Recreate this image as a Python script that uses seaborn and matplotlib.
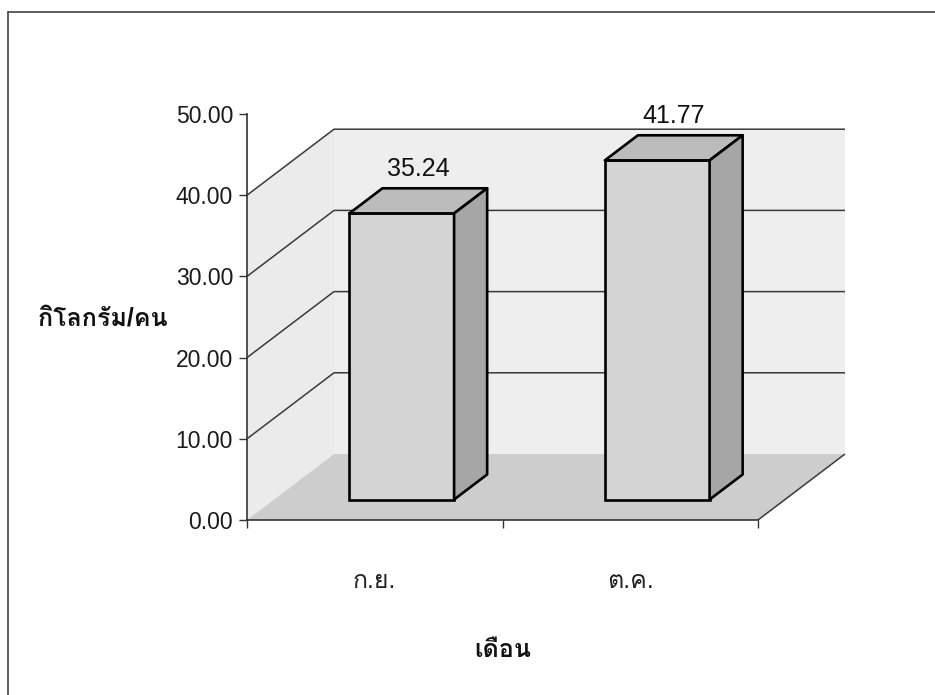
import matplotlib
matplotlib.use("Agg")
import matplotlib.pyplot as plt
from matplotlib.patches import Polygon
from matplotlib.lines import Line2D
from matplotlib.ticker import StrMethodFormatter
import pandas as pd
import seaborn as sns

# Monthly amount per person
months = ["ก.ย.", "ต.ค."]
kg_per_person = [35.24, 41.77]
y_ticks = [0, 10, 20, 30, 40, 50]
wall_top = 40
x_title = "เดือน"
y_title = "กิโลกรัม/คน"

sns.set_style("white")
plt.rcParams["font.family"] = ["Liberation Sans", "Loma", "DejaVu Sans"]

W, H = 935, 695
fig = plt.figure(figsize=(W / 100, H / 100), dpi=100)
# front plane of the 3-D box: value axis on the left, category axis along the floor edge
ax = fig.add_axes([247 / W, 175 / H, 511 / W, 406 / H])

df = pd.DataFrame({"month": months, "value": kg_per_person})
sns.barplot(data=df, x="month", y="value", order=months, color="#d4d4d4",
            saturation=1, width=0.41, edgecolor="black", linewidth=1.9,
            ax=ax, zorder=3)
bars = list(ax.patches)

ax.set_xlim(-0.5, len(months) - 0.5)
ax.set_ylim(y_ticks[0], y_ticks[-1])
left, right = ax.get_xlim()

# oblique depth direction, in screen pixels for a full unit of depth
DEPTH_PX = (87, 66)


def proj(x, v, d):
    """Data point (x, v) pushed back by depth d (0 = front, 1 = back wall)."""
    sx, sy = ax.transData.transform((x, v))
    return ax.transData.inverted().transform((sx + d * DEPTH_PX[0], sy + d * DEPTH_PX[1]))


def face(pts, color, z, **kw):
    ax.add_patch(Polygon([proj(*p) for p in pts], closed=True, facecolor=color,
                         zorder=z, clip_on=False, **kw))


def edge(pts, z=1.0, color="#3a3a3a", lw=1.1):
    xs, ys = zip(*[proj(*p) for p in pts])
    ax.add_line(Line2D(xs, ys, color=color, lw=lw, zorder=z, clip_on=False,
                       solid_capstyle="butt"))


# walls and floor
face([(left, 0, 1), (right, 0, 1), (right, wall_top, 1), (left, wall_top, 1)],
     "#eeeeee", 0.5, edgecolor="none")
face([(left, 0, 0), (left, 0, 1), (left, wall_top, 1), (left, wall_top, 0)],
     "#ebebeb", 0.5, edgecolor="none")
face([(left, 0, 0), (right, 0, 0), (right, 0, 1), (left, 0, 1)],
     "#cdcdcd", 0.6, edgecolor="none")

# gridlines running along the side wall and across the back wall
for v in y_ticks:
    if 0 < v <= wall_top:
        edge([(left, v, 0), (left, v, 1), (right, v, 1)], z=0.8)
edge([(right, 0, 0), (right, 0, 1)], z=0.8)

# bars: front faces from seaborn, set back into the box, plus top and side faces
DB, BD = 0.31, 0.38
for p in bars:
    x0, w, h = p.get_x(), p.get_width(), p.get_height()
    p.set_xy(proj(x0, 0, DB))
    p.set_clip_on(False)
    face([(x0, h, DB), (x0 + w, h, DB), (x0 + w, h, DB + BD), (x0, h, DB + BD)],
         "#bcbcbc", 3, edgecolor="black", linewidth=1.9, joinstyle="round")
    face([(x0 + w, 0, DB), (x0 + w, h, DB), (x0 + w, h, DB + BD), (x0 + w, 0, DB + BD)],
         "#a6a6a6", 3, edgecolor="black", linewidth=1.9, joinstyle="round")
    ax.annotate(f"{h:.2f}", xy=proj(x0 + w / 2, h, DB + BD / 2), xytext=(0, 25),
                textcoords="offset pixels", ha="center", va="baseline",
                fontsize=18, color="#111111", zorder=5, annotation_clip=False)

# axes styling
for s in ("top", "right"):
    ax.spines[s].set_visible(False)
for s in ("left", "bottom"):
    ax.spines[s].set_color("#333333")
    ax.spines[s].set_linewidth(1.2)
    ax.spines[s].set_zorder(4)

ax.set_yticks(y_ticks)
ax.yaxis.set_major_formatter(StrMethodFormatter("{x:.2f}"))
ax.tick_params(axis="y", left=True, direction="out", length=6, width=1,
               color="#333333", pad=4, labelsize=16.5, labelcolor="#1a1a1a")

ax.set_xticks(range(len(months)), months)
ax.set_xticks([left, (left + right) / 2, right], minor=True)
ax.tick_params(axis="x", which="major", bottom=False, length=0, pad=35,
               labelsize=18, labelcolor="#222222")
ax.tick_params(axis="x", which="minor", bottom=True, direction="out", length=6,
               width=1, color="#333333")

ax.set_ylabel(y_title, rotation=0, fontsize=18, fontweight="bold",
              ha="center", va="center", color="#111111")
ax.yaxis.set_label_coords(-0.282, 0.4975)
ax.set_xlabel(x_title, fontsize=18, fontweight="bold", va="center", color="#111111")
ax.xaxis.set_label_coords(0.501, -0.32)

# outer frame
fig.add_artist(Line2D([8 / W, 8 / W], [0, 1 - 12 / H], transform=fig.transFigure,
                      color="#444444", lw=1.2))
fig.add_artist(Line2D([8 / W, 1], [1 - 12 / H, 1 - 12 / H], transform=fig.transFigure,
                      color="#444444", lw=1.2))

fig.savefig("out.png", dpi=100)
